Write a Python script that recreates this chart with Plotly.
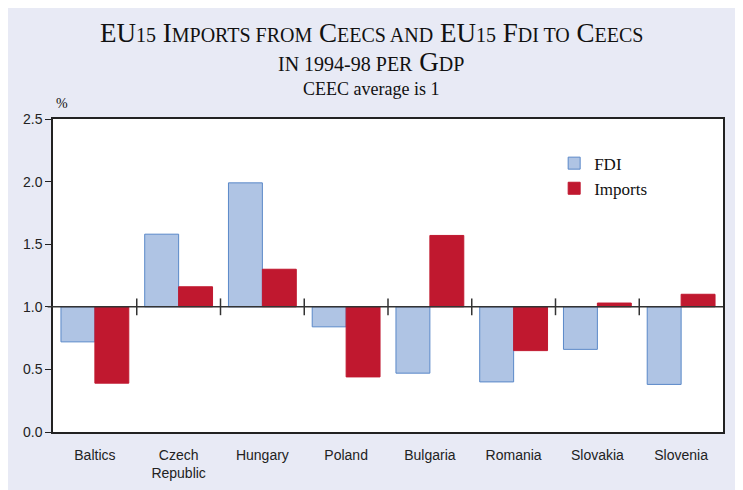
import plotly.graph_objects as go

categories = ["Baltics", "Czech<br>Republic", "Hungary", "Poland", "Bulgaria", "Romania", "Slovakia", "Slovenia"]
fdi = [0.72, 1.58, 1.99, 0.84, 0.47, 0.40, 0.66, 0.38]
imports = [0.39, 1.16, 1.30, 0.44, 1.57, 0.65, 1.03, 1.10]
y_ticks = [0.0, 0.5, 1.0, 1.5, 2.0, 2.5]
baseline = 1.0

xpos = list(range(len(categories)))
boundaries = [i + 0.5 for i in range(len(categories) - 1)]

fig = go.Figure()
fig.add_trace(go.Bar(
    x=xpos, y=[v - baseline for v in fdi], base=baseline, name="FDI",
    marker=dict(color="#AFC4E4", line=dict(color="#5A88C8", width=1)),
))
fig.add_trace(go.Bar(
    x=xpos, y=[v - baseline for v in imports], base=baseline, name="Imports",
    marker=dict(color="#C0182F", line=dict(color="#C0182F", width=1)),
))
fig.add_trace(go.Scatter(
    x=boundaries, y=[baseline] * len(boundaries), mode="markers",
    marker=dict(symbol="line-ns", size=12, line=dict(color="#333333", width=1.5)),
    showlegend=False, hoverinfo="skip",
))

fig.add_shape(type="line", xref="paper", yref="y", x0=-0.008, x1=1, y0=baseline, y1=baseline,
              line=dict(color="#333333", width=1.5), layer="above")

big = 27
small = 20
def sc(txt):
    return f"<span style='font-size:{small}px'>{txt}</span>"

line1 = ("EU" + sc("15") + " I" + sc("MPORTS FROM") + " C" + sc("EECS AND") + " EU" + sc("15") +
         " F" + sc("DI TO") + " C" + sc("EECS"))
line2 = sc("IN 1994-98 PER") + " G" + sc("DP")
line3 = "CEEC average is 1"

serif = "Liberation Serif"
tx = 0.475
annotations = [
    dict(text=line1, x=tx, y=1.275, font=dict(family=serif, size=big, color="#111111")),
    dict(text=line2, x=tx, y=1.182, font=dict(family=serif, size=big, color="#111111")),
    dict(text=line3, x=tx, y=1.097, font=dict(family=serif, size=18, color="#111111")),
    dict(text="%", x=0.013, y=1.051, font=dict(family=serif, size=14, color="#111111")),
]
for a in annotations:
    a.update(xref="paper", yref="paper", xanchor="center", yanchor="middle", showarrow=False)

fig.update_layout(
    width=743, height=490,
    margin=dict(l=45, r=28, t=111, b=66),
    paper_bgcolor="#E8EAF5",
    plot_bgcolor="white",
    barmode="group",
    bargap=0.19,
    bargroupgap=0,
    legend=dict(x=0.748, y=0.915, xanchor="left", yanchor="top",
                font=dict(family=serif, size=17, color="#111111"),
                bgcolor="rgba(0,0,0,0)", tracegroupgap=6),
    font=dict(family="Liberation Sans", size=14, color="#222222"),
    annotations=annotations,
)
fig.update_xaxes(
    range=[-0.5, len(categories) - 0.5], tickvals=xpos, ticktext=categories,
    showgrid=False, zeroline=False, showline=True, linecolor="#222222", linewidth=1.5,
    mirror=True, ticks="", ticklabelstandoff=9,
    tickfont=dict(family="Liberation Sans", size=14, color="#222222"),
)
fig.update_yaxes(
    range=[0, 2.5], tickvals=y_ticks, ticktext=[f"{v:.1f}" for v in y_ticks],
    showgrid=False, zeroline=False, showline=True, linecolor="#222222", linewidth=1.5,
    mirror=True, ticks="outside", ticklen=6, tickcolor="#222222",
    tickfont=dict(family="Liberation Sans", size=14, color="#222222"),
)

fig.write_html("out.html")
